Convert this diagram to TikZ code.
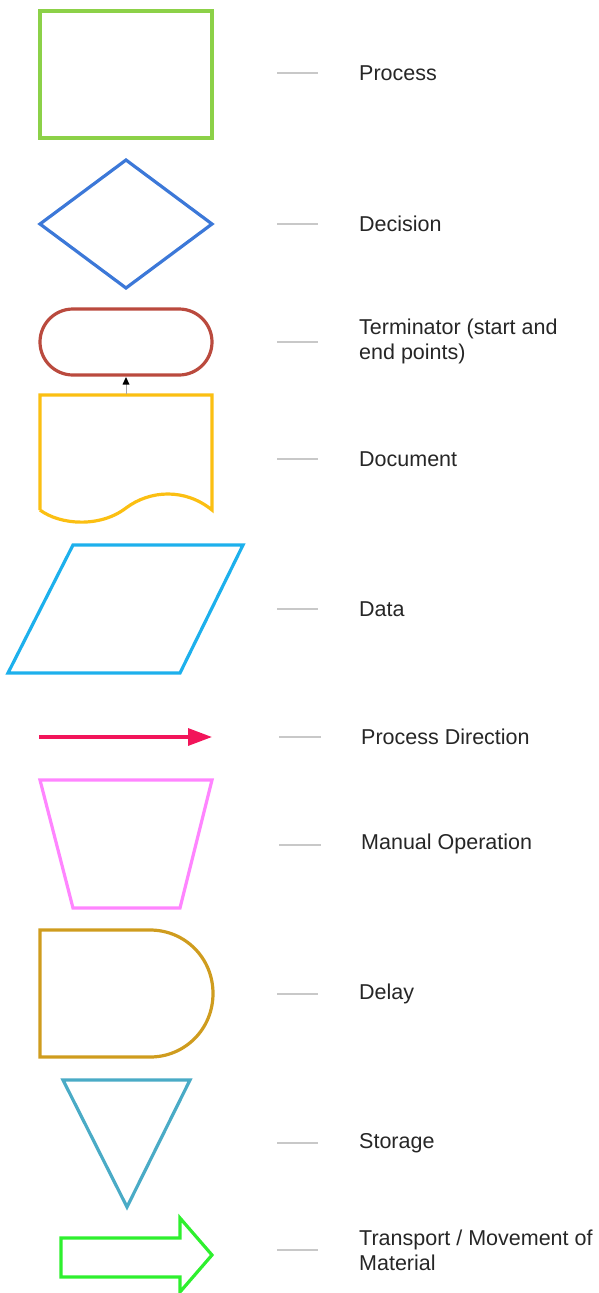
\documentclass[tikz,border=0pt]{standalone}
\usepackage{fontspec}
\setmainfont{Liberation Sans}
\usetikzlibrary{arrows.meta}
\definecolor{cproc}{HTML}{8CD148}
\definecolor{cdec}{HTML}{3C78D8}
\definecolor{cterm}{HTML}{BA4A3E}
\definecolor{cdoc}{HTML}{FBBF12}
\definecolor{cdata}{HTML}{1DB0EC}
\definecolor{cdir}{HTML}{F2155A}
\definecolor{cman}{HTML}{FF85FF}
\definecolor{cdel}{HTML}{CF9C1E}
\definecolor{csto}{HTML}{4AABC6}
\definecolor{ctra}{HTML}{2EF02E}
\definecolor{cdash}{HTML}{C8C8C8}
\begin{document}
\begin{tikzpicture}[x=1pt,y=-1pt,
  shapeline/.style={line width=3.2pt, line join=miter},
  dashmark/.style={draw=cdash, line width=1.6pt},
  lbl/.style={anchor=west, inner sep=0pt, font=\fontsize{21.5}{25}\selectfont, align=left, text=black!85}]
\useasboundingbox (0,0) rectangle (598,1293);
% Process
\draw[shapeline, cproc] (40,11) rectangle (212,138);
% Decision
\draw[shapeline, cdec] (40,224) -- (126,160) -- (212,224) -- (126,288) -- cycle;
% Terminator
\draw[shapeline, cterm, rounded corners=33pt] (40,309) rectangle (212,375);
% Document
\draw[shapeline, cdoc] (40,510) -- (40,395) -- (212,395) -- (212,510)
  .. controls (185,488) and (150,490) .. (126,508)
  .. controls (100,528) and (60,525) .. (40,510);
\coordinate (doctop) at (126,394);
\coordinate (termbot) at (126,377);
\draw[gray!70, line width=0.8pt] (doctop) -- (126,384);
\fill[black] (termbot) -- (122.5,384.5) -- (129.5,384.5) -- cycle;
% Data
\draw[shapeline, cdata] (73,545) -- (243,545) -- (180,673) -- (8,673) -- cycle;
% Process direction
\coordinate (dirA) at (39,737);
\coordinate (dirB) at (212,737);
\draw[cdir, line width=3.2pt, -{Triangle[length=24pt,width=17pt]}] (dirA) -- (dirB);
% Manual operation
\draw[shapeline, cman] (40,780) -- (212,780) -- (180,908) -- (73,908) -- cycle;
% Delay
\draw[shapeline, cdel] (40,930) -- (150,930)
  .. controls (185,930) and (213,958) .. (213,993.5)
  .. controls (213,1029) and (185,1057) .. (150,1057) -- (40,1057) -- cycle;
% Storage
\draw[shapeline, csto] (63,1080) -- (190,1080) -- (127,1207) -- cycle;
% Transport
\draw[shapeline, ctra] (61,1238) -- (180,1238) -- (180,1218) -- (212,1255) -- (180,1292) -- (180,1277) -- (61,1277) -- cycle;
% dashes
\draw[dashmark] (277,73) -- (318,73);
\draw[dashmark] (277,224) -- (318,224);
\draw[dashmark] (277,342) -- (318,342);
\draw[dashmark] (277,459) -- (318,459);
\draw[dashmark] (277,609) -- (318,609);
\draw[dashmark] (279,737) -- (321,737);
\draw[dashmark] (279,845) -- (321,845);
\draw[dashmark] (277,994) -- (318,994);
\draw[dashmark] (277,1143) -- (318,1143);
\draw[dashmark] (277,1250) -- (318,1250);
% labels
\node[lbl] (lproc) at (359,73) {Process};
\node[lbl] (ldec) at (359,224) {Decision};
\node[lbl] (lterm) at (359,341) {Terminator (start and\\end points)};
\node[lbl] (ldoc) at (359,459) {Document};
\node[lbl] (ldata) at (359,609) {Data};
\node[lbl] (ldir) at (361,737) {Process Direction};
\node[lbl] (lman) at (361,844) {Manual Operation};
\node[lbl] (ldel) at (359,994) {Delay};
\node[lbl] (lsto) at (359,1143) {Storage};
\node[lbl] (ltra) at (359,1250) {Transport / Movement of\\Material};
\end{tikzpicture}
\end{document}
